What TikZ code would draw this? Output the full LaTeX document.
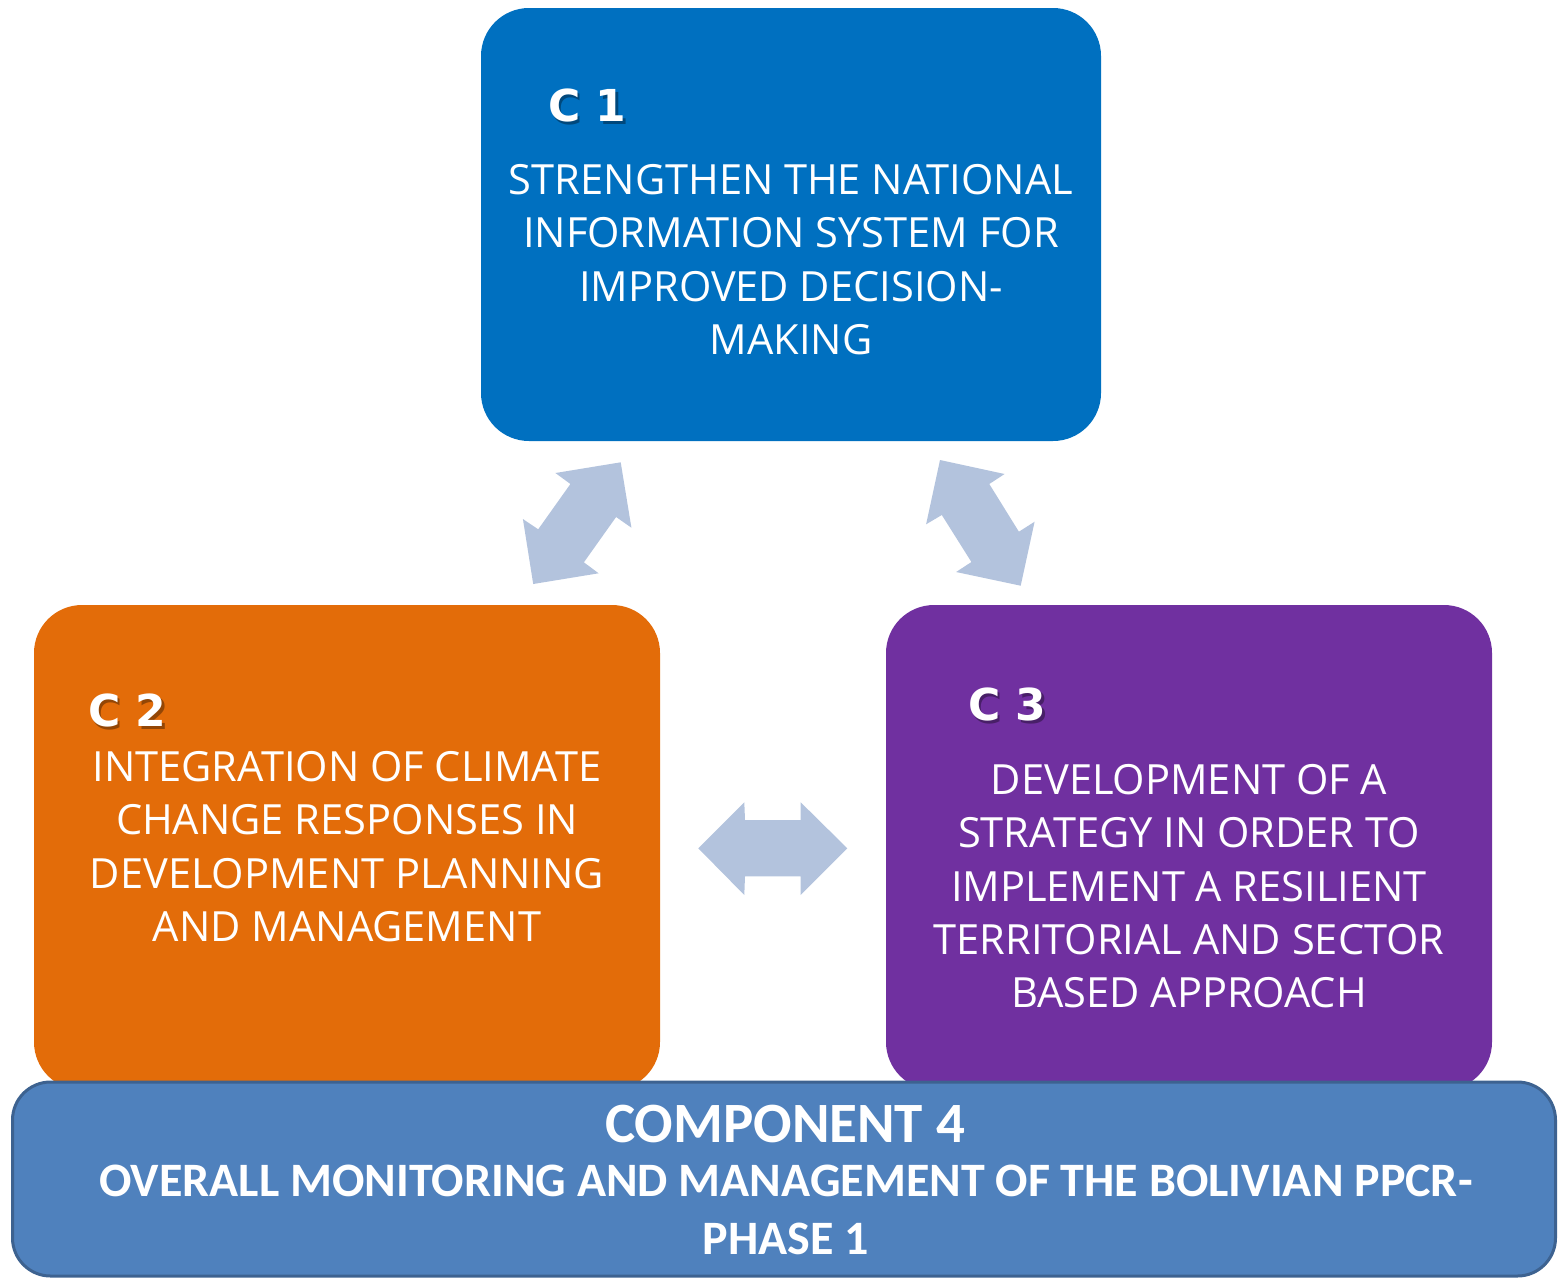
\documentclass[tikz,border=0pt]{standalone}
\usepackage{fontspec}
\setmainfont{Open Sans}
\newfontfamily\headfont{DejaVu Sans}
\newfontfamily\compfont{Carlito}
\definecolor{cone}{HTML}{0070C0}
\definecolor{ctwo}{HTML}{E36C09}
\definecolor{cthree}{HTML}{7030A0}
\definecolor{cfour}{HTML}{4F81BD}
\definecolor{cfourline}{HTML}{3D6290}
\definecolor{arrowblue}{HTML}{B3C3DD}
\begin{document}
\begin{tikzpicture}[x=1pt,y=-1pt,
  box/.style={rectangle,rounded corners=48pt,inner sep=0pt,draw=none},
  head/.style={anchor=north west,inner sep=0pt,text=white,font=\headfont\bfseries\fontsize{44}{50}\selectfont},
  headshadow/.style={anchor=north west,inner sep=0pt,text=black,opacity=0.35,font=\headfont\bfseries\fontsize{44}{50}\selectfont},
  body/.style={anchor=north,inner sep=0pt,text=white,align=center,font=\fontsize{41.6}{53.4}\selectfont},
  blockarrow/.style={fill=arrowblue,draw=none}]
\useasboundingbox (0,0) rectangle (1558,1278);
% boxes
\node[box,fill=cone,minimum width=620pt,minimum height=433pt] (c1) at (791,224.5) {};
\node[box,fill=ctwo,minimum width=626pt,minimum height=485pt] (c2) at (347,847.5) {};
\node[box,fill=cthree,minimum width=606pt,minimum height=485pt] (c3) at (1189,847.5) {};
\node[rectangle,rounded corners=38pt,fill=cfour,draw=cfourline,line width=3pt,minimum width=1543pt,minimum height=194pt,inner sep=0pt] (c4) at (784,1179) {};
% headings
\node[headshadow] at (550.5,91.5) {C 1};
\node[head] (h1) at (548,89) {C 1};
\node[headshadow] at (90.5,696.5) {C 2};
\node[head] (h2) at (88,694) {C 2};
\node[headshadow] at (970.5,690.5) {C 3};
\node[head] (h3) at (968,688) {C 3};
% body texts
\node[body] (t1) at (791,164) {STRENGTHEN THE NATIONAL\\INFORMATION SYSTEM FOR\\IMPROVED DECISION-\\MAKING};
\node[body] (t2) at (347,751) {INTEGRATION OF CLIMATE\\CHANGE RESPONSES IN\\DEVELOPMENT PLANNING\\AND MANAGEMENT};
\node[body] (t3) at (1189,764) {DEVELOPMENT OF A\\STRATEGY IN ORDER TO\\IMPLEMENT A RESILIENT\\TERRITORIAL AND SECTOR\\BASED APPROACH};
% component 4
\node[anchor=north,inner sep=0pt,text=white,font=\compfont\bfseries\fontsize{57}{60}\selectfont] (t4a) at (785,1105) {COMPONENT 4};
\node[anchor=north,inner sep=0pt,text=white,align=center,font=\compfont\bfseries\fontsize{48}{58}\selectfont] (t4b) at (786,1165) {OVERALL MONITORING AND MANAGEMENT OF THE BOLIVIAN PPCR-\\PHASE 1};
% block arrows
\fill[blockarrow] (620.7,462.3) -- (555.4,473) -- (570.4,484) -- (538.2,529.3) -- (522.9,519) -- (533.2,584) -- (598.6,573.3) -- (583.9,562.3) -- (616.1,517) -- (631.4,527.7) -- cycle;
\fill[blockarrow] (940,460) -- (1004.6,474) -- (989.3,484) -- (1018.9,531.7) -- (1034.6,521.7) -- (1020.7,585.7) -- (956.1,572) -- (971.4,562) -- (941.8,515) -- (926.1,524.3) -- cycle;
\fill[blockarrow] (698.3,848.3) -- (744.3,802.3) -- (745,820) -- (800.7,820) -- (800.7,802.3) -- (847.3,848.3) -- (800.7,895) -- (800.7,876.3) -- (745,876.3) -- (744.3,895) -- cycle;
\end{tikzpicture}
\end{document}
